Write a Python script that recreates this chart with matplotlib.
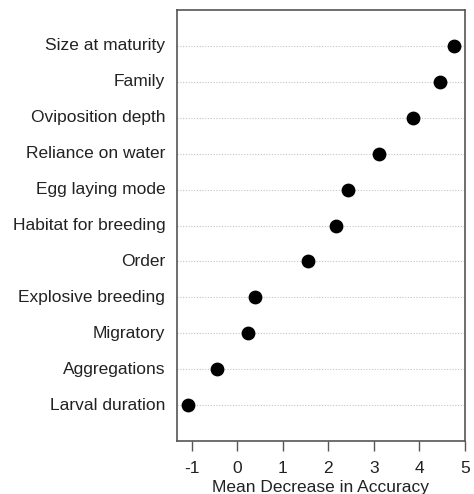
import matplotlib.pyplot as plt

plt.rcParams['font.family'] = ['Liberation Sans', 'DejaVu Sans']

# Variable importance (top to bottom)
labels = ['Size at maturity', 'Family', 'Oviposition depth', 'Reliance on water',
          'Egg laying mode', 'Habitat for breeding', 'Order', 'Explosive breeding',
          'Migratory', 'Aggregations', 'Larval duration']
values = [4.75, 4.46, 3.86, 3.11, 2.43, 2.16, 1.55, 0.38, 0.24, -0.44, -1.08]
xticks = [-1, 0, 1, 2, 3, 4, 5]

fig = plt.figure(figsize=(4.74, 4.94), dpi=100)
ax = fig.add_axes([0.373, 0.107, 0.608, 0.873])

n = len(labels)
ypos = list(range(n, 0, -1))

# dotted guide line for every variable
for y in ypos:
    ax.axhline(y, color='#c4c4c4', linestyle=(0, (1, 1.5)), linewidth=0.8, zorder=1)
ax.scatter(values, ypos, s=80, color='black', zorder=3)

ax.set_xlim(-1.33, 5.0)
ax.set_ylim(0, n + 1)
ax.set_yticks([])
for y, lab in zip(ypos, labels):
    ax.text(-0.04, y, lab, transform=ax.get_yaxis_transform(), ha='right', va='center',
            fontsize=12.5, color='#222222')

ax.set_xticks(xticks)
ax.set_xticklabels([str(t) for t in xticks], fontsize=12.5, color='#222222')
ax.tick_params(axis='x', direction='out', length=7, width=1, color='#555555', pad=7)
ax.set_xlabel('Mean Decrease in Accuracy', fontsize=12.5, color='#222222', labelpad=3)

for s in ax.spines.values():
    s.set_color('#555555')
    s.set_linewidth(1.2)

fig.savefig('out.png', dpi=100)
